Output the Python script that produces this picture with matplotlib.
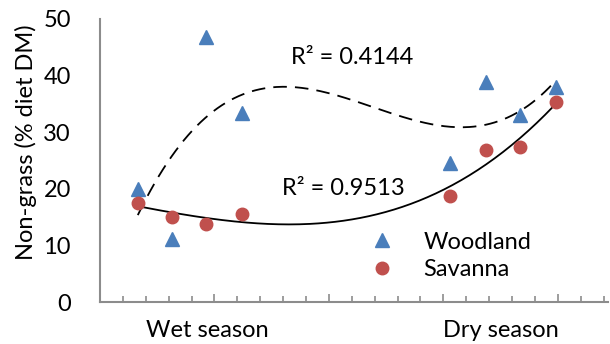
import numpy as np
import matplotlib
matplotlib.use("Agg")
from matplotlib import pyplot as plt
from matplotlib.ticker import MultipleLocator

plt.rcParams['font.family'] = ['Lato', 'DejaVu Sans']

# Sampling positions along the season axis
x_pos = [1.65, 3.15, 4.65, 6.2, 15.3, 16.85, 18.35, 19.9]
woodland = [20.0, 11.1, 46.8, 33.3, 24.6, 38.8, 33.1, 37.9]
savanna = [17.5, 15.1, 13.8, 15.5, 18.8, 26.9, 27.4, 35.3]
season_labels = ['Wet season', 'Dry season']
season_centres = [4.7, 17.5]
r2_labels = ['R\u00b2 = 0.4144', 'R\u00b2 = 0.9513']

blue = '#4A7EBB'
red = '#C0504D'
grey = '#8C8C8C'
fs = 17

fig = plt.figure(figsize=(6.1, 3.44), dpi=100)
ax = fig.add_axes([0.164, 0.122, 0.833, 0.823])

x = np.array(x_pos)
xx = np.linspace(x.min(), x.max(), 200)

# third-order polynomial trend lines
cw = np.polyfit(x, woodland, 3)
cs = np.polyfit(x, savanna, 3)
ax.plot(xx, np.polyval(cw, xx), color='black', lw=1.3, dashes=(7.5, 4.5))
ax.plot(xx, np.polyval(cs, xx), color='black', lw=1.3)

ax.plot(x, woodland, '^', color=blue, ms=9.5, mec=blue, label='Woodland')
ax.plot(x, savanna, 'o', color=red, ms=9, mec=red, label='Savanna')

ax.text(11.0, 43.2, r2_labels[0], fontsize=fs, ha='center', va='center')
ax.text(10.65, 20.0, r2_labels[1], fontsize=fs, ha='center', va='center')

ax.set_xlim(0, 22.2)
ax.set_ylim(0, 50)
ax.yaxis.set_major_locator(MultipleLocator(10))
ax.xaxis.set_major_locator(MultipleLocator(5))
ax.xaxis.set_minor_locator(MultipleLocator(1))
ax.set_xticklabels([])
ax.tick_params(axis='x', which='major', direction='in', length=6, width=1.2, color=grey)
ax.tick_params(axis='x', which='minor', direction='in', length=4, width=1.2, color=grey)
ax.tick_params(axis='y', length=0, labelsize=fs, pad=21)

for s in ['top', 'right']:
    ax.spines[s].set_visible(False)
for s in ['left', 'bottom']:
    ax.spines[s].set_color(grey)
    ax.spines[s].set_linewidth(1.5)

ax.set_ylabel('Non-grass (% diet DM)', fontsize=fs)
ax.yaxis.set_label_coords(-0.125, 0.564)

for lab, xc in zip(season_labels, season_centres):
    ax.text(xc, -5.0, lab, fontsize=fs, ha='center', va='center')

ax.legend(loc='center left', bbox_to_anchor=(0.509, 0.163),
          frameon=False, fontsize=fs, handletextpad=0.74, labelspacing=0.27,
          borderpad=0, borderaxespad=0)

fig.savefig('out.png', dpi=100)
